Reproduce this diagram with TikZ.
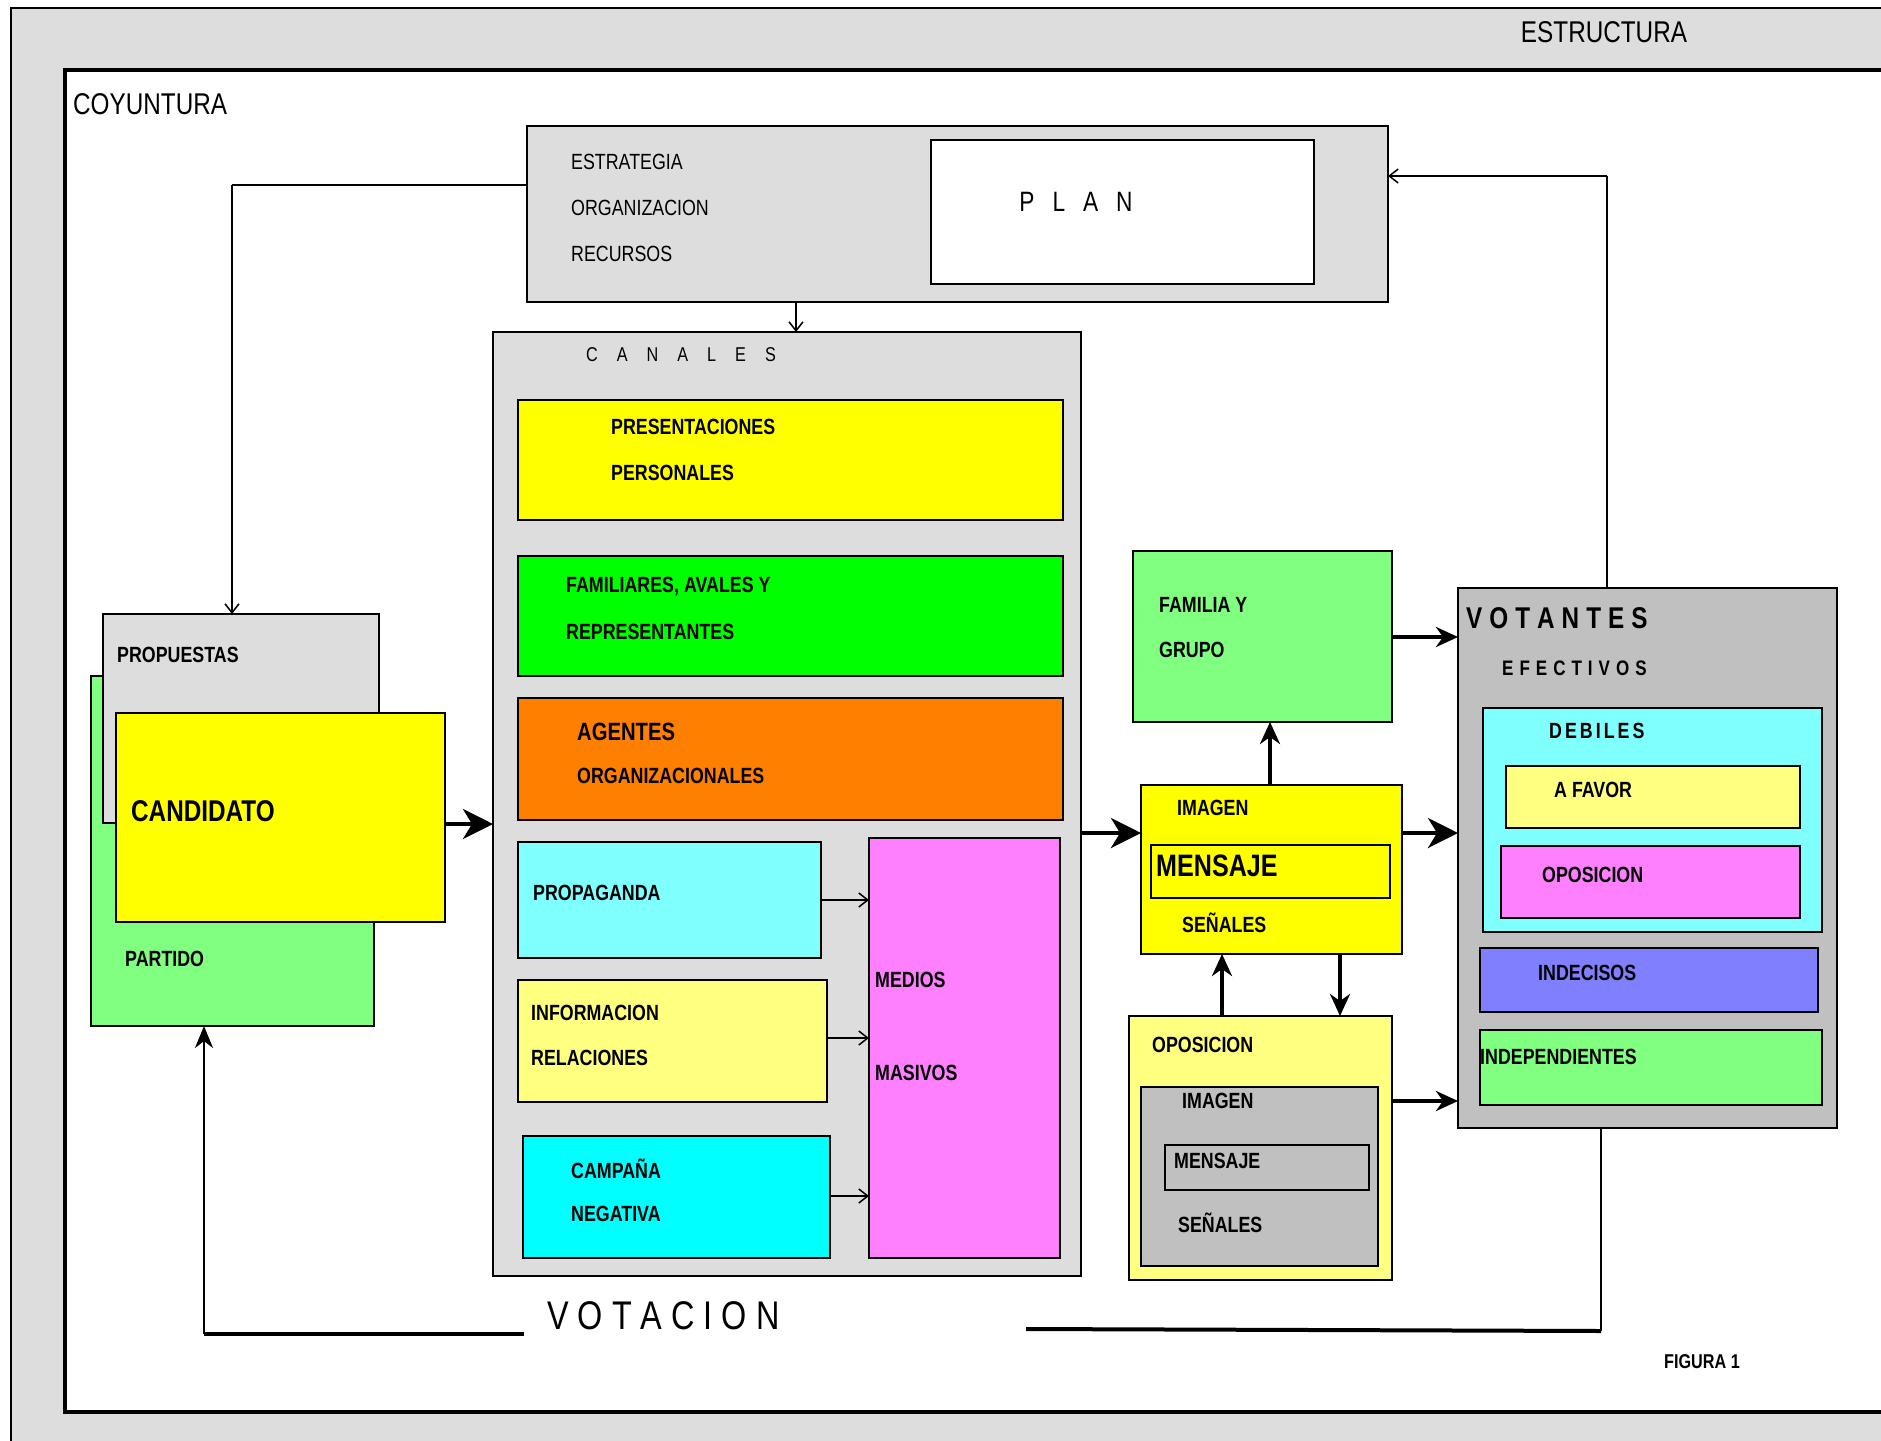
\documentclass[tikz,border=0pt]{standalone}
\usepackage{fontspec}
\setmainfont{Liberation Sans}[FakeStretch=0.81]
\usetikzlibrary{arrows.meta}
\definecolor{bg}{RGB}{221,221,221}
\definecolor{vgray}{RGB}{192,192,192}
\definecolor{cyel}{RGB}{255,255,0}
\definecolor{lyel}{RGB}{255,255,128}
\definecolor{cgreen}{RGB}{0,255,0}
\definecolor{lgreen}{RGB}{128,255,128}
\definecolor{corange}{RGB}{255,128,0}
\definecolor{lcyan}{RGB}{128,255,255}
\definecolor{ccyan}{RGB}{0,255,255}
\definecolor{cmag}{RGB}{255,128,255}
\definecolor{cblue}{RGB}{128,128,255}
\makeatletter
\newcommand\spacedtxt[2]{\def\st@gap{#1}\let\st@sep\relax\@tfor\st@c:=#2\do{\st@sep\st@c\def\st@sep{\hspace{\st@gap}}}}
\makeatother
\newcommand\mkbox[6]{\node[#6, anchor=north west, minimum width={(#4-#2)*1pt}, minimum height={(#5-#3)*1pt}] (#1) at (#2,#3) {};}
\begin{document}
\begin{tikzpicture}[x=1pt,y=-1pt,
  bx/.style={draw=black, line width=1.6pt, inner sep=0pt, outer sep=0pt},
  lbl/.style={anchor=west, inner sep=0pt, font=\fontsize{22}{26}\selectfont\bfseries},
  rlbl/.style={anchor=west, inner sep=0pt, font=\fontsize{22}{26}\selectfont},
  bigl/.style={anchor=west, inner sep=0pt, font=\fontsize{30}{34}\selectfont},
  thinarr/.style={line width=1.5pt, -{Straight Barb[length=9pt,width=14pt]}},
  thickarr/.style={line width=4pt, -{Stealth[length=30pt,width=30pt,inset=9pt]}},
  medarr/.style={line width=4pt, -{Stealth[length=22pt,width=20pt,inset=7pt]}},
  thickline/.style={line width=4pt},
  thinline/.style={line width=2pt}]
\useasboundingbox (0,0) rectangle (1881,1440);
\clip (0,0) rectangle (1881,1440);
% frames
\mkbox{estructura}{11}{8}{1960}{1500}{bx, line width=2pt, fill=bg}
\mkbox{coyuntura}{65}{70}{1960}{1412}{bx, line width=4pt, fill=white}
\node[bigl, anchor=center] (testr) at (1604,32) {ESTRUCTURA};
\node[bigl] (tcoy) at (73,104) {COYUNTURA};
% plan
\mkbox{plan}{527}{126}{1388}{302}{bx, fill=bg}
\mkbox{planin}{931}{140}{1314}{284}{bx, fill=white}
\node[anchor=center, inner sep=0pt, font=\fontsize{28}{32}\selectfont] (tplan) at (1076,202) {\spacedtxt{18pt}{PLAN}};
\node[rlbl] (t1) at (571,162) {ESTRATEGIA};
\node[rlbl] (t2) at (571,208) {ORGANIZACION};
\node[rlbl] (t3) at (571,254) {RECURSOS};
% canales
\mkbox{canales}{493}{332}{1081}{1276}{bx, fill=bg}
\node[anchor=west, inner sep=0pt, font=\fontsize{20}{24}\selectfont] (tcan) at (586,355) {\spacedtxt{19pt}{CANALES}};
\mkbox{pres}{518}{400}{1063}{520}{bx, fill=cyel}
\node[lbl] (t4) at (611,427) {PRESENTACIONES};
\node[lbl] (t5) at (611,473) {PERSONALES};
\mkbox{famil}{518}{556}{1063}{676}{bx, fill=cgreen}
\node[lbl] (t6) at (566,587) {FAMILIARES, AVALES Y};
\node[lbl] (t7) at (566,632) {REPRESENTANTES};
\mkbox{agentes}{518}{698}{1063}{820}{bx, fill=corange}
\node[lbl, font=\fontsize{25}{29}\selectfont\bfseries] (t8) at (577,732) {AGENTES};
\node[lbl] (t9) at (577,776) {ORGANIZACIONALES};
\mkbox{propag}{518}{842}{821}{958}{bx, fill=lcyan}
\node[lbl] (t10) at (533,893) {PROPAGANDA};
\mkbox{info}{518}{980}{827}{1102}{bx, fill=lyel}
\node[lbl] (t11) at (531,1013) {INFORMACION};
\node[lbl] (t12) at (531,1058) {RELACIONES};
\mkbox{campana}{523}{1136}{830}{1258}{bx, fill=ccyan}
\node[lbl] (t13) at (571,1169) {CAMPAÑA};
\node[lbl] (t14) at (571,1214) {NEGATIVA};
\mkbox{medios}{869}{838}{1060}{1258}{bx, fill=cmag}
\node[lbl] (t15) at (875,980) {MEDIOS};
\node[lbl] (t16) at (875,1073) {MASIVOS};
% left group
\mkbox{partido}{91}{676}{374}{1026}{bx, fill=lgreen}
\node[lbl] (t17) at (125,959) {PARTIDO};
\mkbox{propuestas}{103}{614}{379}{823}{bx, fill=bg}
\node[lbl] (t18) at (117,655) {PROPUESTAS};
\mkbox{candidato}{116}{713}{445}{922}{bx, fill=cyel}
\node[lbl, font=\fontsize{30}{34}\selectfont\bfseries] (t19) at (131,811) {CANDIDATO};
% right middle
\mkbox{familia}{1133}{551}{1392}{722}{bx, fill=lgreen}
\node[lbl] (t20) at (1159,605) {FAMILIA Y};
\node[lbl] (t21) at (1159,650) {GRUPO};
\mkbox{imagen}{1141}{785}{1402}{954}{bx, fill=cyel}
\node[lbl] (t22) at (1177,808) {IMAGEN};
\mkbox{mensaje}{1151}{845}{1390}{898}{bx, fill=cyel}
\node[lbl, font=\fontsize{31}{35}\selectfont\bfseries] (t23) at (1156,866) {MENSAJE};
\node[lbl] (t24) at (1182,923) {SEÑALES};
\mkbox{oposicion}{1129}{1016}{1392}{1280}{bx, fill=lyel}
\node[lbl] (t25) at (1152,1045) {OPOSICION};
\mkbox{opimg}{1141}{1087}{1378}{1266}{bx, fill=vgray}
\node[lbl] (t26) at (1182,1101) {IMAGEN};
\mkbox{opmens}{1165}{1145}{1369}{1190}{bx, fill=vgray}
\node[lbl] (t27) at (1174,1161) {MENSAJE};
\node[lbl] (t28) at (1178,1223) {SEÑALES};
% votantes
\mkbox{votantes}{1458}{588}{1837}{1128}{bx, fill=vgray}
\node[anchor=west, inner sep=0pt, font=\fontsize{30}{34}\selectfont\bfseries] (t29) at (1466,618) {\spacedtxt{7pt}{VOTANTES}};
\node[anchor=west, inner sep=0pt, font=\fontsize{21}{25}\selectfont\bfseries] (t30) at (1502,668) {\spacedtxt{6pt}{EFECTIVOS}};
\mkbox{debiles}{1483}{708}{1822}{932}{bx, fill=lcyan}
\node[anchor=west, inner sep=0pt, font=\fontsize{22}{26}\selectfont\bfseries] (t31) at (1549,731) {\spacedtxt{3pt}{DEBILES}};
\mkbox{afavor}{1506}{766}{1800}{828}{bx, fill=lyel}
\node[lbl] (t32) at (1554,790) {A FAVOR};
\mkbox{opvot}{1501}{846}{1800}{918}{bx, fill=cmag}
\node[lbl] (t33) at (1542,875) {OPOSICION};
\mkbox{indecisos}{1480}{948}{1818}{1012}{bx, fill=cblue}
\node[lbl] (t34) at (1538,973) {INDECISOS};
\mkbox{indep}{1480}{1030}{1822}{1105}{bx, fill=lgreen}
\node[lbl] (t35) at (1480,1057) {INDEPENDIENTES};
% bottom texts
\node[anchor=west, inner sep=0pt, font=\fontsize{40}{44}\selectfont] (votacion) at (547,1316) {\spacedtxt{9pt}{VOTACION}};
\node[lbl, font=\fontsize{20}{24}\selectfont\bfseries] (figura) at (1664,1362) {FIGURA 1};
% helper coordinates
\coordinate (c1) at (232,185);
\coordinate (xpc) at (796,0);
\coordinate (ycand) at (0,824);
\coordinate (yprop) at (0,900);
\coordinate (yinfo) at (0,1038);
\coordinate (ycamp) at (0,1196);
\coordinate (yimg) at (0,833);
\coordinate (xfam) at (1270,0);
\coordinate (yfam) at (0,637);
\coordinate (xop1) at (1222,0);
\coordinate (xop2) at (1340,0);
\coordinate (yop) at (0,1101);
\coordinate (c2) at (1607,176);
\coordinate (c3) at (1601,1331);
\coordinate (vr) at (1026,1329);
\coordinate (vl) at (524,1334);
\coordinate (c4) at (204,1334);
% connectors
\draw[thinline] (plan.west |- c1) -- (c1);
\draw[thinarr] (c1) -- (c1 |- propuestas.north);
\draw[thinarr] (plan.south -| xpc) -- (canales.north -| xpc);
\draw[thickarr] (candidato.east |- ycand) -- (canales.west |- ycand);
\draw[thinarr] (propag.east |- yprop) -- (medios.west |- yprop);
\draw[thinarr] (info.east |- yinfo) -- (medios.west |- yinfo);
\draw[thinarr] (campana.east |- ycamp) -- (medios.west |- ycamp);
\draw[thickarr] (canales.east |- yimg) -- (imagen.west |- yimg);
\draw[medarr] (imagen.north -| xfam) -- (familia.south -| xfam);
\draw[medarr] (familia.east |- yfam) -- (votantes.west |- yfam);
\draw[thickarr] (imagen.east |- yimg) -- (votantes.west |- yimg);
\draw[medarr] (oposicion.north -| xop1) -- (imagen.south -| xop1);
\draw[medarr] (imagen.south -| xop2) -- (oposicion.north -| xop2);
\draw[medarr] (oposicion.east |- yop) -- (votantes.west |- yop);
\draw[thinline] (votantes.north -| c2) -- (c2);
\draw[thinarr] (c2) -- (plan.east |- c2);
\draw[thinline] (votantes.south -| c3) -- (c3);
\draw[thickline] (c3) -- (vr);
\draw[thickline] (vl) -- (c4);
\draw[line width=2.5pt, -{Stealth[length=22pt,width=18pt,inset=7pt]}] (c4) -- (c4 |- partido.south);
\end{tikzpicture}
\end{document}
